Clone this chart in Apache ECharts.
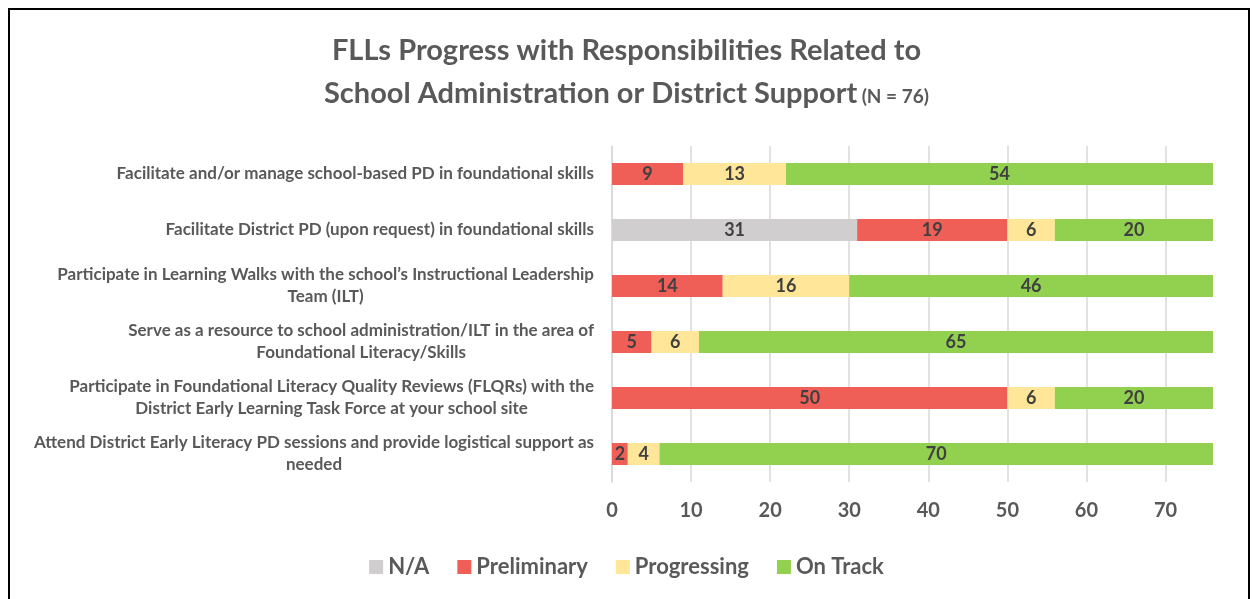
<!DOCTYPE html>
<html>
<head>
<meta charset="utf-8">
<script src="https://cdn.jsdelivr.net/npm/echarts@6/dist/echarts.min.js"></script>
<style>
  html, body { margin: 0; padding: 0; background: #fff; }
  #main { width: 1253px; height: 599px; }
</style>
</head>
<body>
<div id="main"></div>
<script>
// data
var categories = [
  'Facilitate and/or manage school-based PD in foundational skills',
  'Facilitate District PD (upon request) in foundational skills',
  'Participate in Learning Walks with the school\u2019s Instructional Leadership\nTeam (ILT)',
  'Serve as a resource to school administration/ILT in the area of\nFoundational Literacy/Skills',
  'Participate in Foundational Literacy Quality Reviews (FLQRs) with the\nDistrict Early Learning Task Force at your school site',
  'Attend District Early Literacy PD sessions and provide logistical support as\nneeded'
]
var seriesNames = ['N/A', 'Preliminary', 'Progressing', 'On Track']
var naValues = [0, 31, 0, 0, 0, 0]
var preliminaryValues = [9, 19, 14, 5, 50, 2]
var progressingValues = [13, 6, 16, 6, 6, 4]
var onTrackValues = [54, 20, 46, 65, 20, 70]
var colors = ['#D0CECE', '#EF5F58', '#FFE699', '#92D050']

var font = 'Lato'
var textGray = '#595959'

var myChart = echarts.init(document.getElementById('main'))

function makeSeries(name, values, color) {
  return {
    name: name,
    type: 'bar',
    stack: 'total',
    barWidth: 22,
    data: values,
    itemStyle: { color: color },
    label: {
      show: true,
      position: 'inside',
      color: '#404040',
      fontFamily: font,
      fontWeight: 'bold',
      fontSize: 18,
      formatter: function (p) { return p.value ? p.value : '' }
    }
  }
}

myChart.setOption({
  animation: false,
  textStyle: { fontFamily: font },
  title: {
    left: 'center',
    top: 24,
    text: '{a|FLLs Progress with Responsibilities Related to}\n{a|School Administration or District Support} {b|(N = 76)}',
    textStyle: {
      rich: {
        a: { fontFamily: font, fontSize: 29, fontWeight: 'bold', color: textGray, lineHeight: 43 },
        b: { fontFamily: font, fontSize: 19, fontWeight: 'bold', color: textGray, lineHeight: 43, padding: [6, 0, 0, 0] }
      }
    }
  },
  graphic: [{
    type: 'rect',
    shape: { x: 9, y: 9, width: 1240, height: 640 },
    style: { fill: 'none', stroke: '#000', lineWidth: 2 },
    silent: true
  }],
  legend: {
    bottom: 16,
    left: 'center',
    icon: 'rect',
    itemWidth: 14,
    itemHeight: 14,
    itemGap: 28,
    data: seriesNames,
    textStyle: { fontFamily: font, fontSize: 22, fontWeight: 'bold', color: textGray }
  },
  grid: { left: 612, right: 40, top: 146, bottom: 117 },
  xAxis: {
    type: 'value',
    min: 0,
    max: 76,
    interval: 10,
    axisLine: { show: false },
    axisTick: { show: false },
    axisLabel: {
      showMaxLabel: false,
      margin: 19,
      fontFamily: font,
      fontSize: 20,
      fontWeight: 'bold',
      color: textGray
    },
    splitLine: { show: true, showMaxLine: false, lineStyle: { color: '#D9D9D9', width: 1.5 } }
  },
  yAxis: {
    type: 'category',
    inverse: true,
    data: categories,
    axisLine: { show: true, lineStyle: { color: '#D9D9D9', width: 1.5 } },
    axisTick: { show: false },
    axisLabel: {
      margin: 18,
      align: 'right',
      fontFamily: font,
      fontSize: 17,
      fontWeight: 'bold',
      lineHeight: 22,
      color: textGray,
      // second line sits centred under the first one
      formatter: function (v) {
        return v.split('\n').map(function (s) { return '{c|' + s + '}' }).join('\n')
      },
      rich: {
        c: { align: 'center', fontFamily: font, fontSize: 17, fontWeight: 'bold', lineHeight: 22, color: textGray }
      }
    }
  },
  series: [
    makeSeries(seriesNames[0], naValues, colors[0]),
    makeSeries(seriesNames[1], preliminaryValues, colors[1]),
    makeSeries(seriesNames[2], progressingValues, colors[2]),
    makeSeries(seriesNames[3], onTrackValues, colors[3])
  ]
})

window.addEventListener('resize', () => {
  myChart.resize()
})
</script>
</body>
</html>
